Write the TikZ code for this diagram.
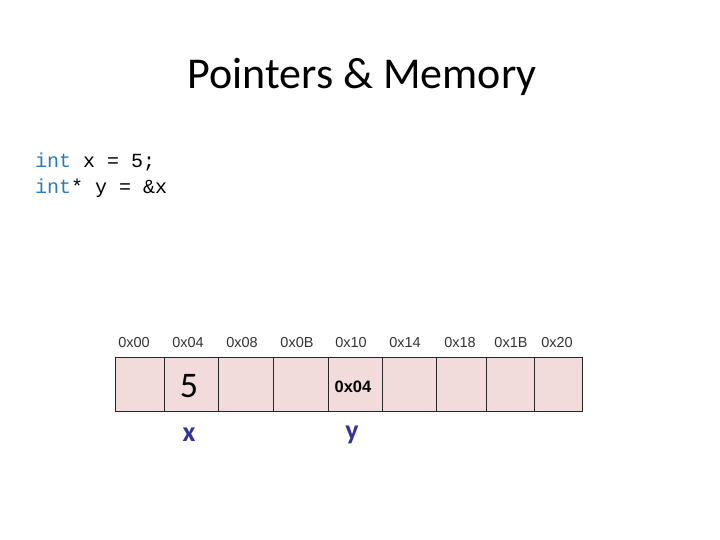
\documentclass[tikz,border=0pt]{standalone}
\usepackage{fontspec}
\setmainfont{Carlito}
\newfontfamily\arialfont{Liberation Sans}
\newfontfamily\codefont{Liberation Mono}
\definecolor{cellfill}{HTML}{F2DCDB}
\definecolor{kwblue}{HTML}{2B7BB9}
\definecolor{varblue}{HTML}{333399}
\tikzset{
  cell/.style={draw=black!85, fill=cellfill, line width=0.8pt},
  addr/.style={font=\arialfont\fontsize{14.5}{16}\selectfont, text=black!80, anchor=center},
  varname/.style={font=\bfseries\fontsize{28}{30}\selectfont, text=varblue, anchor=center},
  codeline/.style={font=\codefont\fontsize{20}{22}\selectfont, anchor=west, inner sep=0pt}
}
\begin{document}
\begin{tikzpicture}[x=1pt,y=-1pt]
\useasboundingbox (0,0) rectangle (720,540);
\node[font=\fontsize{44}{48}\selectfont] (title) at (362,77) {Pointers \& Memory};
\node[codeline] (c1) at (35,162) {\textcolor{kwblue}{int} x = 5;};
\node[codeline] (c2) at (35,188) {\textcolor{kwblue}{int}* y = \&x};
% cells
\foreach \a/\b in {115/164,164/218,218/273,273/328,328/382,382/436,436/486,486/534,534/582}{
  \draw[cell] (\a,357) rectangle (\b,411);
}
\foreach \x/\t/\n in {134/0x00/a0,188/0x04/a1,242/0x08/a2,297/0x0B/a3,351/0x10/a4,405/0x14/a5,460/0x18/a6,511/0x1B/a7,557/0x20/a8}{
  \node[addr] (\n) at (\x,343) {\t};
}
\node[font=\fontsize{36}{38}\selectfont] (five) at (189,386) {5};
\node[font=\arialfont\bfseries\fontsize{16.5}{18}\selectfont] (ptr) at (353,387) {0x04};
\node[varname] (vx) at (189,435) {x};
\node[varname] (vy) at (352,435) {y};
\end{tikzpicture}
\end{document}
